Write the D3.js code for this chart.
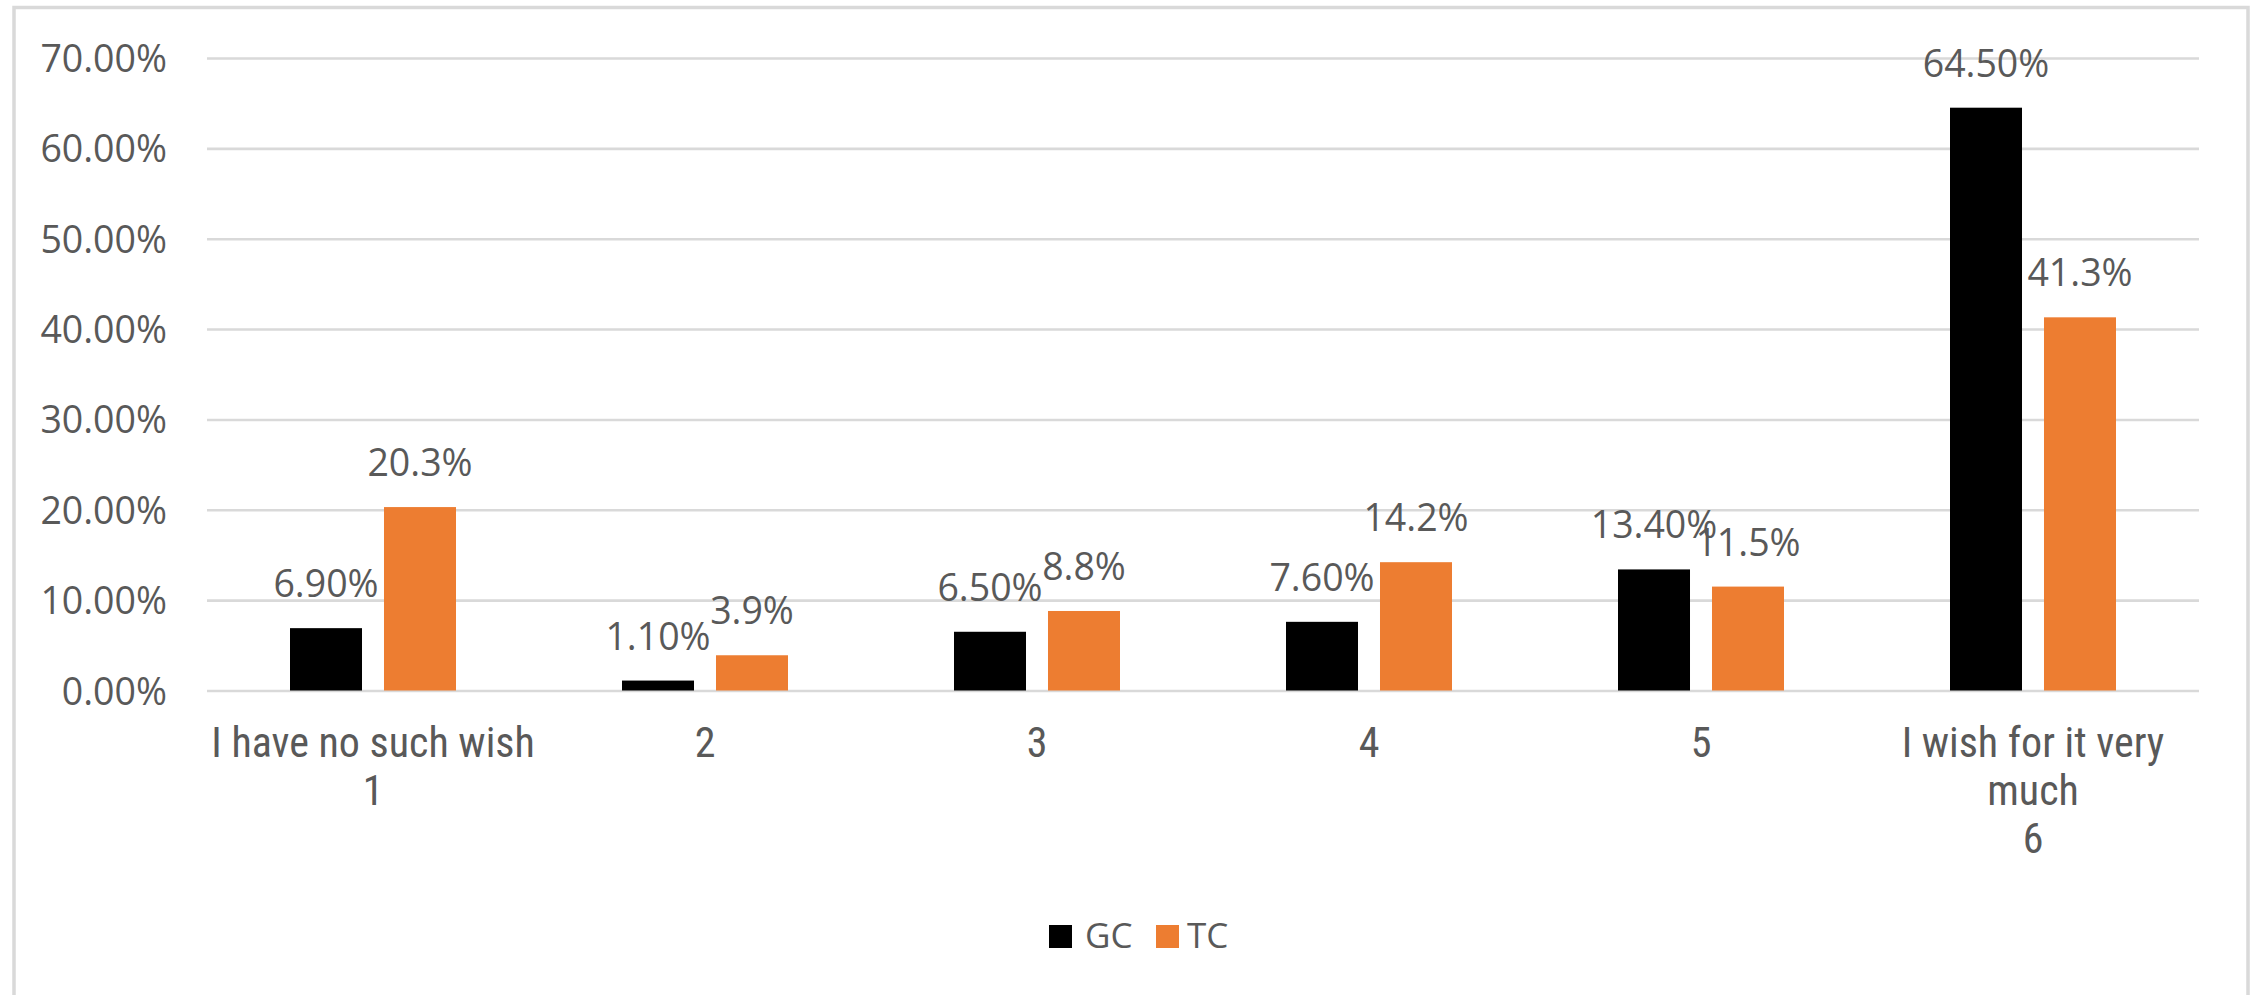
<!DOCTYPE html>
<html>
<head>
<meta charset="utf-8">
<script src="https://cdn.jsdelivr.net/npm/d3@7"></script>
<style>
  html, body { margin: 0; padding: 0; background: #ffffff; }
  svg { display: block; }
</style>
</head>
<body>
<svg id="chart" width="2255" height="995"></svg>
<script>
// ---- data ----
const categories = ["1", "2", "3", "4", "5", "6"];
const categoryLabels = [
  ["I have no such wish", "1"],
  ["2"],
  ["3"],
  ["4"],
  ["5"],
  ["I wish for it very", "much", "6"]
];
const seriesNames = ["GC", "TC"];
const gcValues = [6.9, 1.1, 6.5, 7.6, 13.4, 64.5];
const tcValues = [20.3, 3.9, 8.8, 14.2, 11.5, 41.3];
const yTicks = [0, 10, 20, 30, 40, 50, 60, 70];
const seriesColors = ["#000000", "#ED7D31"];

// ---- layout ----
const svg = d3.select("#chart");
const W = 2255, H = 995;
const plotLeft = 207, plotRight = 2199, plotTop = 58, plotBottom = 690.5;
const textColor = "#595959";
const numFont = "'Open Sans', 'DejaVu Sans', sans-serif";
const catFont = "'Liberation Sans Narrow', 'Roboto Condensed', 'Liberation Sans', sans-serif";

svg.append("rect").attr("x", 0).attr("y", 0).attr("width", W).attr("height", H).attr("fill", "#fff");
svg.append("rect")
  .attr("x", 14).attr("y", 7.5).attr("width", 2234).attr("height", 1100)
  .attr("fill", "none").attr("stroke", "#D9D9D9").attr("stroke-width", 3.5);

const x0 = d3.scaleBand().domain(categories).range([plotLeft, plotRight]).padding(0);
const bw = x0.bandwidth();
const x1 = d3.scaleBand().domain(seriesNames).range([bw * 0.25, bw * 0.75]).paddingInner(0.234).paddingOuter(0);
const y = d3.scaleLinear().domain([0, 70]).range([plotBottom, plotTop]);

// gridlines
const grid = svg.append("g").attr("transform", `translate(${plotLeft},0)`)
  .call(d3.axisLeft(y).tickValues(yTicks).tickSize(-(plotRight - plotLeft)).tickFormat(""));
grid.select(".domain").remove();
grid.selectAll(".tick line").attr("stroke", "#D9D9D9").attr("stroke-width", 2.6);

// y axis labels
const yAxis = svg.append("g").attr("transform", `translate(${plotLeft - 40},0)`)
  .call(d3.axisLeft(y).tickValues(yTicks).tickSize(0).tickPadding(0).tickFormat(d => d.toFixed(2) + "%"));
yAxis.select(".domain").remove();
yAxis.selectAll("text").attr("fill", textColor).style("font-family", numFont).style("font-size", "37.5px").attr("dy", "0.36em");

// bars
const rows = categories.map((c, i) => ({ cat: c, vals: [gcValues[i], tcValues[i]] }));
const groups = svg.append("g").selectAll("g").data(rows).join("g")
  .attr("transform", d => `translate(${x0(d.cat)},0)`);
groups.selectAll("rect").data(d => d.vals.map((v, j) => ({ s: seriesNames[j], v, j }))).join("rect")
  .attr("x", d => x1(d.s)).attr("width", x1.bandwidth())
  .attr("y", d => y(d.v)).attr("height", d => y(0) - y(d.v))
  .attr("fill", d => seriesColors[d.j]);

// data labels
groups.selectAll("text").data(d => d.vals.map((v, j) => ({ s: seriesNames[j], v, j }))).join("text")
  .attr("x", d => x1(d.s) + x1.bandwidth() / 2)
  .attr("y", d => y(d.v) - 31)
  .attr("text-anchor", "middle")
  .attr("fill", textColor)
  .style("font-family", numFont).style("font-size", "37.5px")
  .text(d => d.j === 0 ? d.v.toFixed(2) + "%" : d.v.toFixed(1) + "%");

// category axis labels
const xAxis = svg.append("g").attr("transform", `translate(0,${plotBottom})`)
  .call(d3.axisBottom(x0).tickSize(0).tickFormat(""));
xAxis.select(".domain").remove();
xAxis.selectAll(".tick").each(function(d, i) {
  const t = d3.select(this).append("text")
    .attr("text-anchor", "middle").attr("fill", textColor)
    .style("font-family", catFont).style("font-size", "42px");
  categoryLabels[i].forEach((line, k) => {
    t.append("tspan").attr("x", 0).attr("y", 66.5 + k * 48).text(line);
  });
});

// legend
const legendItems = [
  { name: "GC", sx: 1049, tx: 1085 },
  { name: "TC", sx: 1156, tx: 1187 }
];
const lg = svg.append("g");
legendItems.forEach((it, i) => {
  lg.append("rect").attr("x", it.sx).attr("y", 925).attr("width", 23).attr("height", 23).attr("fill", seriesColors[i]);
  lg.append("text").attr("x", it.tx).attr("y", 948).attr("fill", textColor)
    .style("font-family", numFont).style("font-size", "35px").text(it.name);
});
</script>
</body>
</html>
